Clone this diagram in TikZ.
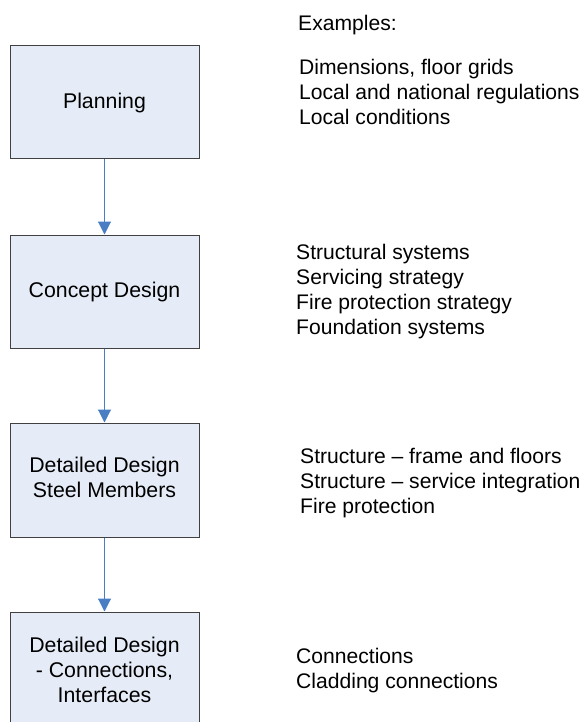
\documentclass[tikz,border=0pt]{standalone}
\usepackage{fontspec}
\setmainfont{Liberation Sans}
\usetikzlibrary{arrows.meta}
\definecolor{boxfill}{HTML}{E6ECF7}
\definecolor{boxline}{HTML}{404040}
\definecolor{arrowblue}{HTML}{4A7EC4}
\tikzset{
  stagebox/.style={draw=boxline, line width=1pt, fill=boxfill, rectangle,
    minimum width=189pt, minimum height=113pt, inner sep=0pt,
    font=\fontsize{21.3}{25}\selectfont},
  flowarrow/.style={draw=arrowblue, line width=1.1pt,
    -{Triangle[width=13pt,length=13pt]}},
  example/.style={anchor=base west, inner sep=0pt,
    font=\fontsize{21.1}{25}\selectfont}
}
\newcommand{\linesl}[1]{\begin{tabular}[t]{@{}l@{}}#1\end{tabular}}
\newcommand{\linesc}[1]{\begin{tabular}{@{}c@{}}#1\end{tabular}}
\begin{document}
\begin{tikzpicture}[x=1pt,y=-1pt]
\useasboundingbox (0,0) rectangle (585,722);
\node[stagebox] (plan) at (104.5,102.5) {Planning};
\node[stagebox] (concept) at (104.5,291.5) {Concept Design};
\node[stagebox, minimum height=114pt] (detail) at (104.5,480) {\linesc{Detailed Design\\Steel Members}};
\node[stagebox, minimum height=120pt] (conn) at (104.5,672) {\linesc{Detailed Design\\- Connections,\\Interfaces}};
\draw[flowarrow] (plan.south) -- (concept.north);
\draw[flowarrow] (concept.south) -- (detail.north);
\draw[flowarrow] (detail.south) -- (conn.north);
\node[example] (exhead) at (298,31) {Examples:};
\node[example] (explan) at (299,75) {\linesl{Dimensions, floor grids\\Local and national regulations\\Local conditions}};
\node[example] (exconcept) at (296,259.5) {\linesl{Structural systems\\Servicing strategy\\Fire protection strategy\\Foundation systems}};
\node[example] (exdetail) at (300,463) {\linesl{Structure – frame and floors\\Structure – service integration\\Fire protection}};
\node[example] (exconn) at (296,663) {\linesl{Connections\\Cladding connections}};
\end{tikzpicture}
\end{document}
